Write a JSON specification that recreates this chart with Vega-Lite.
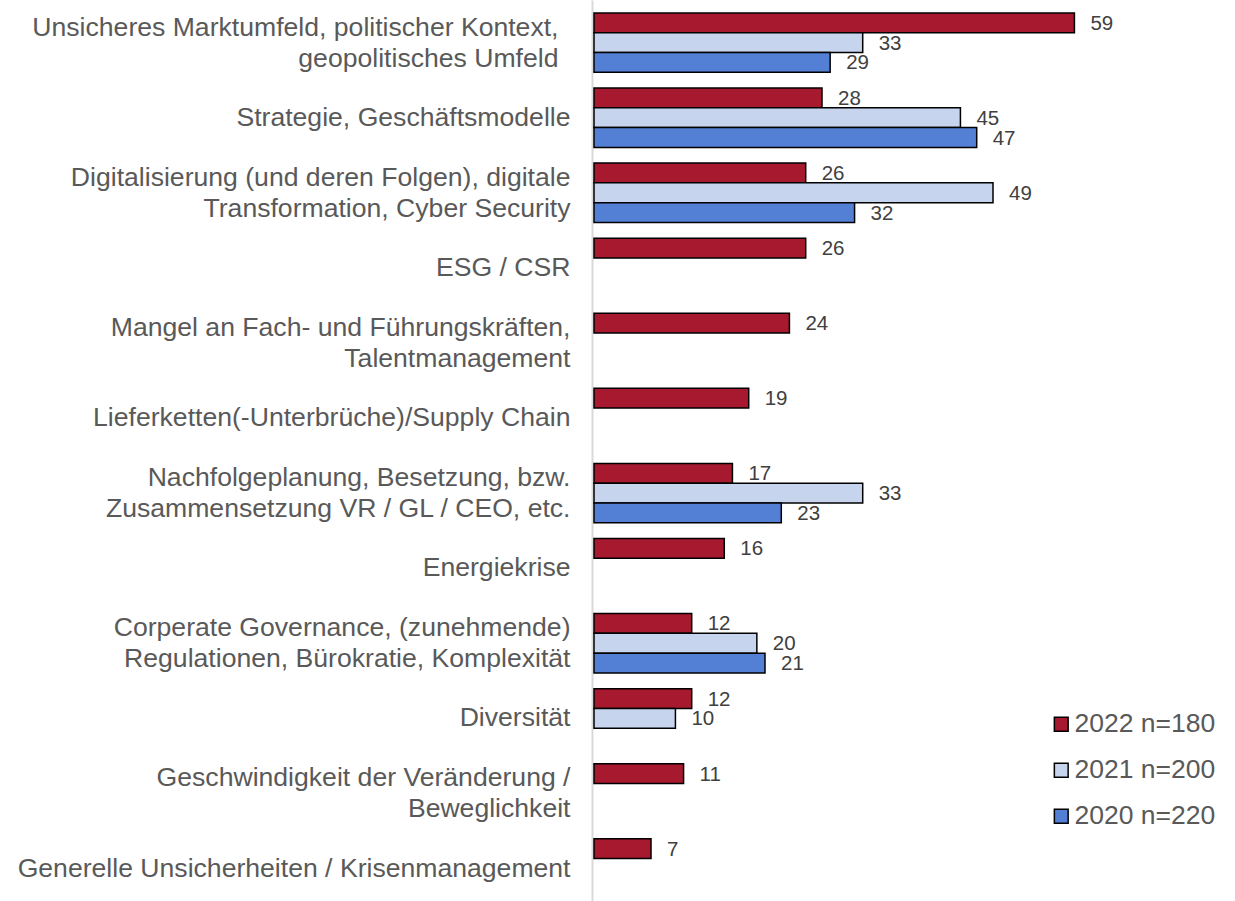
{
  "$schema": "https://vega.github.io/schema/vega-lite/v6.json",
  "autosize": {"type": "none"},
  "padding": {"left": 594, "top": 0, "right": 71, "bottom": 0},
  "width": 570,
  "height": 901,
  "background": "white",
  "config": {"view": {"stroke": null}, "font": "Liberation Sans"},
  "data": {
    "values": [
      {"cat": "Unsicheres Marktumfeld, politischer Kontext,|geopolitisches Umfeld", "series": "2022 n=180", "value": 59},
      {"cat": "Unsicheres Marktumfeld, politischer Kontext,|geopolitisches Umfeld", "series": "2021 n=200", "value": 33},
      {"cat": "Unsicheres Marktumfeld, politischer Kontext,|geopolitisches Umfeld", "series": "2020 n=220", "value": 29},
      {"cat": "Strategie, Geschäftsmodelle", "series": "2022 n=180", "value": 28},
      {"cat": "Strategie, Geschäftsmodelle", "series": "2021 n=200", "value": 45},
      {"cat": "Strategie, Geschäftsmodelle", "series": "2020 n=220", "value": 47},
      {"cat": "Digitalisierung (und deren Folgen), digitale|Transformation, Cyber Security", "series": "2022 n=180", "value": 26},
      {"cat": "Digitalisierung (und deren Folgen), digitale|Transformation, Cyber Security", "series": "2021 n=200", "value": 49},
      {"cat": "Digitalisierung (und deren Folgen), digitale|Transformation, Cyber Security", "series": "2020 n=220", "value": 32},
      {"cat": "ESG / CSR", "series": "2022 n=180", "value": 26},
      {"cat": "Mangel an Fach- und Führungskräften,|Talentmanagement", "series": "2022 n=180", "value": 24},
      {"cat": "Lieferketten(-Unterbrüche)/Supply Chain", "series": "2022 n=180", "value": 19},
      {"cat": "Nachfolgeplanung, Besetzung, bzw.|Zusammensetzung VR / GL / CEO, etc.", "series": "2022 n=180", "value": 17},
      {"cat": "Nachfolgeplanung, Besetzung, bzw.|Zusammensetzung VR / GL / CEO, etc.", "series": "2021 n=200", "value": 33},
      {"cat": "Nachfolgeplanung, Besetzung, bzw.|Zusammensetzung VR / GL / CEO, etc.", "series": "2020 n=220", "value": 23},
      {"cat": "Energiekrise", "series": "2022 n=180", "value": 16},
      {"cat": "Corperate Governance, (zunehmende)|Regulationen, Bürokratie, Komplexität", "series": "2022 n=180", "value": 12},
      {"cat": "Corperate Governance, (zunehmende)|Regulationen, Bürokratie, Komplexität", "series": "2021 n=200", "value": 20},
      {"cat": "Corperate Governance, (zunehmende)|Regulationen, Bürokratie, Komplexität", "series": "2020 n=220", "value": 21},
      {"cat": "Diversität", "series": "2022 n=180", "value": 12},
      {"cat": "Diversität", "series": "2021 n=200", "value": 10},
      {"cat": "Geschwindigkeit der Veränderung /|Beweglichkeit", "series": "2022 n=180", "value": 11},
      {"cat": "Generelle Unsicherheiten / Krisenmanagement", "series": "2022 n=180", "value": 7}
    ]
  },
  "encoding": {
    "y": {
      "field": "cat",
      "type": "nominal",
      "sort": null,
      "scale": {"paddingInner": 0.208, "paddingOuter": 0.104, "align": 0.825},
      "axis": {
        "title": null,
        "ticks": false,
        "offset": 2,
        "domainColor": "#D9D9D9",
        "domainWidth": 2,
        "labelPadding": {"condition": {"test": "indexof(datum.value, 'Unsicheres') == 0", "value": 34}, "value": 22},
        "labelOffset": {"condition": {"test": "indexof(datum.value, '|') >= 0", "value": -15}, "value": 0},
        "labelFontSize": 26.6,
        "labelColor": "#595959",
        "labelLineHeight": 31,
        "labelLimit": 600,
        "labelExpr": "split(datum.value, '|')"
      }
    },
    "yOffset": {
      "field": "series",
      "type": "nominal",
      "scale": {"domain": ["2022 n=180", "2021 n=200", "2020 n=220"], "paddingInner": 0, "paddingOuter": 0}
    },
    "x": {
      "field": "value",
      "type": "quantitative",
      "scale": {"domain": [0, 70], "nice": false},
      "axis": null
    }
  },
  "layer": [
    {
      "mark": {"type": "bar", "stroke": "black", "strokeWidth": 1.5},
      "encoding": {
        "color": {
          "field": "series",
          "type": "nominal",
          "scale": {"domain": ["2022 n=180", "2021 n=200", "2020 n=220"], "range": ["#A6192E", "#C6D4EE", "#537FD5"]},
          "legend": {
            "title": null,
            "orient": "none",
            "legendX": 454,
            "legendY": 711,
            "symbolType": "square",
            "symbolSize": 190,
            "symbolStrokeColor": "black",
            "symbolStrokeWidth": 1.5,
            "symbolOpacity": 1,
            "labelFontSize": 26.5,
            "labelColor": "#595959",
            "labelOffset": 0,
            "rowPadding": 19,
            "labelLimit": 300
          }
        }
      }
    },
    {
      "mark": {"type": "text", "align": "left", "baseline": "middle", "dx": 16, "dy": 1, "fontSize": 20.5, "color": "#404040"},
      "encoding": {
        "text": {"field": "value", "type": "quantitative"}
      }
    }
  ]
}
